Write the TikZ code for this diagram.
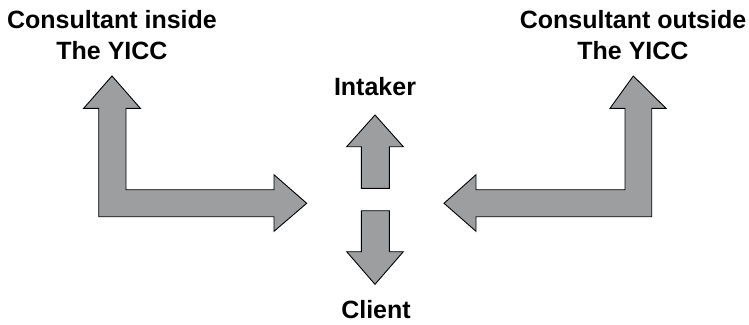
\documentclass[tikz,border=0pt]{standalone}
\usepackage{fontspec}
\setmainfont{Liberation Sans}
\begin{document}
\begin{tikzpicture}[x=1pt,y=-1pt,
  arrowshape/.style={fill={rgb,255:red,157;green,158;blue,160},draw=black,line width=0.9pt,line join=miter},
  lbl/.style={font=\fontsize{25}{31}\selectfont\bfseries,inner sep=0pt,align=center,anchor=base}]
\useasboundingbox (0,0) rectangle (749,324);
% labels
\node[lbl] (ci) at (112,59) {Consultant inside\\The YICC};
\node[lbl] (co) at (633,59) {Consultant outside\\The YICC};
\node[lbl] (in) at (375,95) {Intaker};
\node[lbl] (cl) at (376,318) {Client};
% left L arrow
\draw[arrowshape] (112,76) -- (140.3,108.3) -- (126,108.3) -- (126,189.7) -- (274,189.7) -- (274,174.7)
  -- (306.7,203.3) -- (274,231.3) -- (274,216.7) -- (98.7,216.7) -- (98.7,108.3) -- (83.7,108.3) -- cycle;
% right L arrow
\draw[arrowshape] (633.3,76) -- (666,108.3) -- (651.7,108.3) -- (651.7,216.7) -- (476,216.7) -- (476,231.3)
  -- (444,203.3) -- (476,174.7) -- (476,189.7) -- (625,189.7) -- (625,108.3) -- (610,108.3) -- cycle;
% up arrow
\draw[arrowshape] (375,115) -- (403.3,146.7) -- (389.3,146.7) -- (389.3,188.3) -- (361.3,188.3) -- (361.3,146.7) -- (346.7,146.7) -- cycle;
% down arrow
\draw[arrowshape] (361.3,210.7) -- (389.3,210.7) -- (389.3,251.7) -- (403.3,251.7) -- (375,284.3) -- (346.7,251.7) -- (361.3,251.7) -- cycle;
\end{tikzpicture}
\end{document}
